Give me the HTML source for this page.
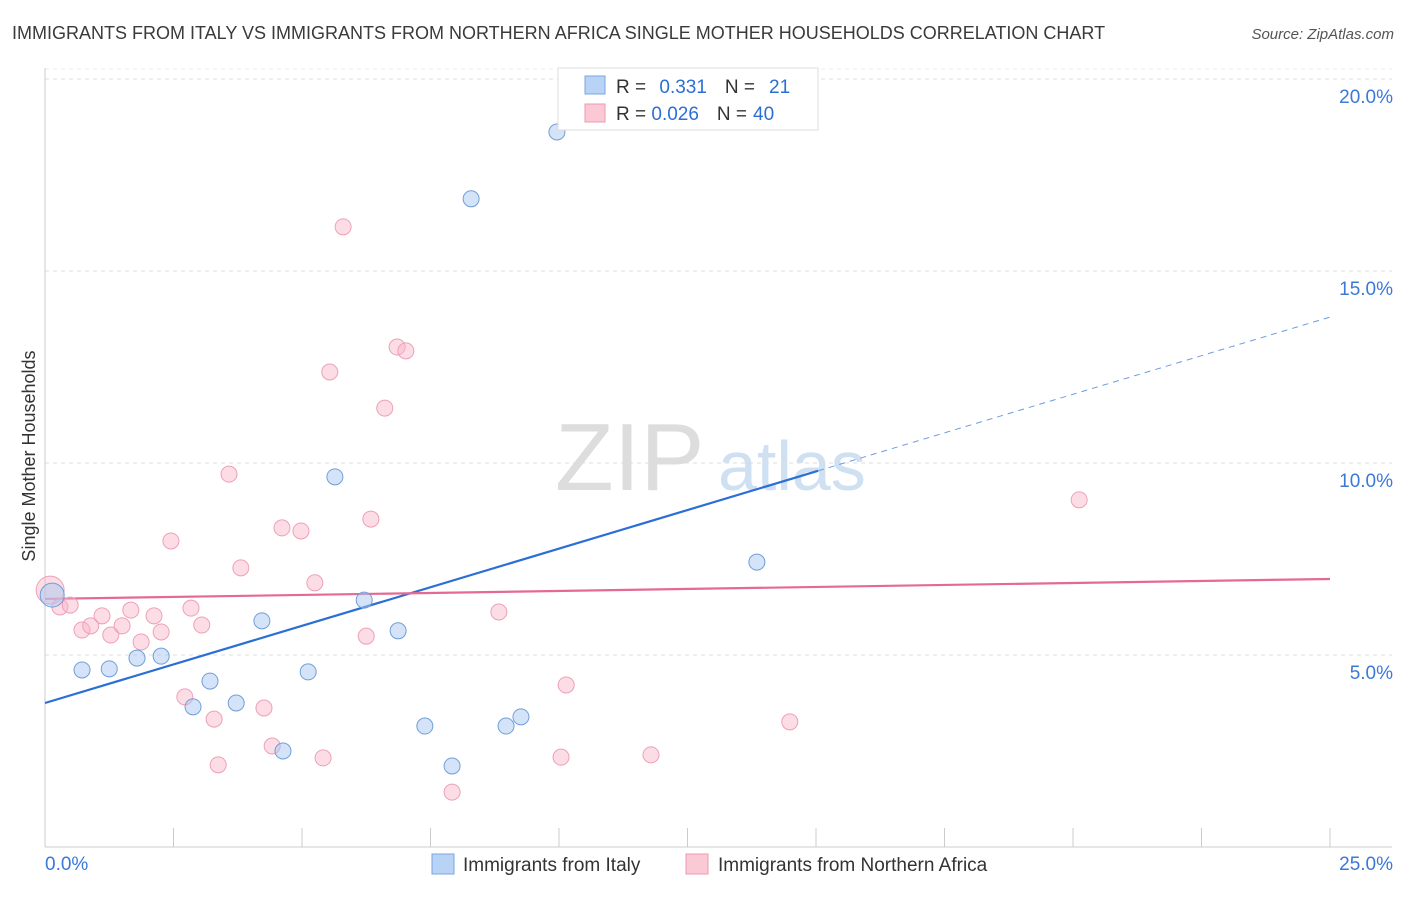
<!DOCTYPE html>
<html><head><meta charset="utf-8"><style>
body{margin:0;background:#fff;font-family:"Liberation Sans",sans-serif}
svg text{font-family:"Liberation Sans",sans-serif}
</style></head><body>
<svg id="c" width="1406" height="892">
<text x="12" y="39" font-size="18" fill="#3a3a3a">IMMIGRANTS FROM ITALY VS IMMIGRANTS FROM NORTHERN AFRICA SINGLE MOTHER HOUSEHOLDS CORRELATION CHART</text>
<text x="1394" y="39" font-size="15" fill="#555" font-style="italic" text-anchor="end">Source: ZipAtlas.com</text>
<text x="35" y="456" font-size="18" fill="#333" transform="rotate(-90 35 456)" text-anchor="middle">Single Mother Households</text>
<text x="555" y="490" font-size="96" fill="#ddd" font-family="Liberation Serif">ZIP</text>
<text x="718" y="490" font-size="70" fill="#cfe0f3">atlas</text>
<g id="grid"></g><g id="lines"></g><g id="pts"></g>
<g>
<rect x="558" y="68" width="260" height="62" fill="#fff" stroke="#ddd"/>
<rect x="585" y="76" width="20" height="18" fill="#b8d3f5" stroke="#7aa6de"/>
<rect x="585" y="104" width="20" height="18" fill="#fbc8d6" stroke="#ee9ab2"/>
<text x="616" y="93" font-size="19" fill="#333">R = <tspan fill="#2b6fd6" dx="8">0.331</tspan><tspan dx="18" fill="#333">N =</tspan><tspan dx="14" fill="#2b6fd6">21</tspan></text>
<text x="616" y="120" font-size="19" fill="#333">R = <tspan fill="#2b6fd6">0.026</tspan><tspan dx="18" fill="#333">N =</tspan><tspan dx="6" fill="#2b6fd6">40</tspan></text>
</g>
<g>
<rect x="432" y="854" width="22" height="20" fill="#b8d3f5" stroke="#7aa6de"/>
<text x="463" y="871" font-size="19" fill="#333">Immigrants from Italy</text>
<rect x="686" y="854" width="22" height="20" fill="#fbc8d6" stroke="#ee9ab2"/>
<text x="718" y="871" font-size="19" fill="#333">Immigrants from Northern Africa</text>
</g>
</svg>
<script>
const xTicks=[0,2.5,5,7.5,10,12.5,15,17.5,20,22.5,25];
const yTicks=[5,10,15,20];
const yTickLabels=["5.0%","10.0%","15.0%","20.0%"];
const italyX=[0.14,0.72,1.25,1.79,2.26,2.88,3.21,3.72,4.22,4.63,5.12,5.64,6.21,6.87,7.39,7.92,8.29,8.97,9.26,9.96,13.85];
const italyY=[6.56,4.61,4.64,4.92,4.97,3.65,4.32,3.75,5.89,2.50,4.56,9.64,6.43,5.63,3.15,2.11,16.88,3.15,3.39,18.62,7.42];
const nafX=[0.10,0.29,0.49,0.72,0.89,1.11,1.28,1.50,1.67,1.87,2.12,2.26,2.45,2.72,2.84,3.05,3.29,3.37,3.58,3.81,4.26,4.42,4.61,4.98,5.25,5.41,5.54,5.80,6.25,6.34,6.61,6.85,7.02,7.92,8.83,10.04,10.14,11.79,14.49,20.12];
const nafY=[6.69,6.25,6.30,5.65,5.76,6.02,5.52,5.76,6.17,5.34,6.02,5.60,7.97,3.91,6.22,5.78,3.33,2.14,9.71,7.27,3.62,2.63,8.31,8.23,6.88,2.32,12.37,16.15,5.49,8.54,11.43,13.02,12.92,1.43,6.12,2.34,4.22,2.40,3.26,9.04];
const italyLine=[3.75,13.8]; // y at x=0 and x=25
const italySolidEnd=15.04;
const nafLine=[6.46,6.98];
const X=v=>45+v*51.4, Y=v=>847-v*38.4;
const NS="http://www.w3.org/2000/svg";
function mk(t,a,p){const e=document.createElementNS(NS,t);for(const k in a)e.setAttribute(k,a[k]);p.appendChild(e);return e;}
const g=document.getElementById('grid');
yTicks.forEach((t,i)=>{
 const l=mk('line',{x1:45,x2:1392,y1:Y(t),y2:Y(t),stroke:'#ddd','stroke-dasharray':'4,4'},g);
 
 
 const tx=mk('text',{x:1393,y:Y(t)+24,'font-size':19,fill:'#3b78d8','text-anchor':'end'},g);
 tx.textContent=yTickLabels[i];
 
 
});
mk('line',{x1:45,x2:1392,y1:79-10,y2:79-10,stroke:'#eee','stroke-dasharray':'4,4'},g);
mk('line',{x1:45,x2:45,y1:68,y2:847,stroke:'#ccc'},g);
mk('line',{x1:45,x2:1392,y1:847,y2:847,stroke:'#ccc'},g);
xTicks.forEach(t=>{
 const l=mk('line',{x1:X(t),x2:X(t),y1:828,y2:847,stroke:'#ccc'},g);
 
 
});
const x0=mk('text',{x:45,y:870,'font-size':19,fill:'#3b78d8'},g);x0.textContent="0.0%";


const x1=mk('text',{x:1393,y:870,'font-size':19,fill:'#3b78d8','text-anchor':'end'},g);x1.textContent="25.0%";


const L=document.getElementById('lines');
const iy=x=>italyLine[0]+(italyLine[1]-italyLine[0])*x/25;
const a=mk('line',{x1:X(0),y1:Y(iy(0)),x2:X(italySolidEnd),y2:Y(iy(italySolidEnd)),stroke:'#2b6fd6','stroke-width':2.2},L);


const b=mk('line',{x1:X(italySolidEnd),y1:Y(iy(italySolidEnd)),x2:X(25),y2:Y(iy(25)),stroke:'#6d9ce0','stroke-width':1,'stroke-dasharray':'6,5'},L);


const c=mk('line',{x1:X(0),y1:Y(nafLine[0]),x2:X(25),y2:Y(nafLine[1]),stroke:'#e46a92','stroke-width':2.2},L);


const P=document.getElementById('pts');
nafX.forEach((x,i)=>{
 const e=mk('circle',{cx:X(x),cy:Y(nafY[i]),r:i==0?14:8,fill:'rgba(248,180,200,0.45)',stroke:'#eea0b8','stroke-width':1},P);
 
 
});
italyX.forEach((x,i)=>{
 const e=mk('circle',{cx:X(x),cy:Y(italyY[i]),r:i==0?12:8,fill:'rgba(170,200,240,0.5)',stroke:'#6f9fd8','stroke-width':1},P);
 
 
});
</script>
</body></html>
